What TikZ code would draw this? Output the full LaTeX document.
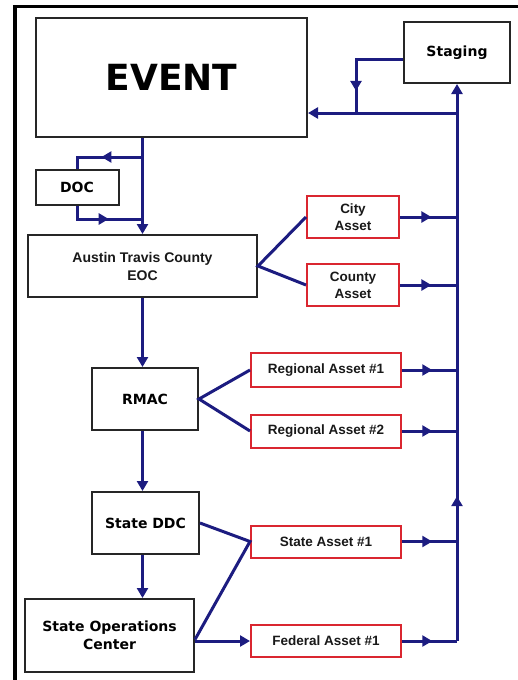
\documentclass[tikz,border=0pt]{standalone}
\usepackage{fontspec}
\setmainfont{Liberation Sans}
\newfontfamily\heavyfont{DejaVu Sans}
\usetikzlibrary{arrows.meta,decorations.markings}
\definecolor{flownavy}{RGB}{28,28,128}
\definecolor{assetred}{RGB}{218,38,48}
\tikzset{
    box/.style={draw=black!85,line width=2pt,fill=white,inner sep=0pt,align=center,
        font=\heavyfont\bfseries\fontsize{14}{18}\selectfont},
    plainbox/.style={box,font=\bfseries\fontsize{14}{18}\selectfont,text=black!90},
    assetbox/.style={plainbox,draw=assetred,font=\bfseries\fontsize{13.5}{17}\selectfont},
    link/.style={draw=flownavy,line width=3pt},
    tip/.style={-{Triangle[length=10pt,width=11pt]}},
    midarrow/.style={postaction={decorate},decoration={markings,
        mark=at position #1 with {\arrow{Triangle[length=10pt,width=11pt]}}}}
}
\begin{document}
\begin{tikzpicture}[x=1pt,y=-1pt,line join=miter]
    \useasboundingbox (0,0) rectangle (518,680);
    %% frame
    \draw[line width=4.5pt] (15,680) -- (15,6.5);
    \draw[line width=3.5pt] (12.75,6.5) -- (518,6.5);
    %% boxes
    \node[box,minimum width=271,minimum height=119,
        font=\heavyfont\bfseries\fontsize{36}{40}\selectfont] (event) at (171.5,77.5) {EVENT};
    \node[box,minimum width=106,minimum height=61] (staging) at (457,52.5) {Staging};
    \node[box,minimum width=83,minimum height=35] (doc) at (77,187.5) {DOC};
    \node[plainbox,minimum width=229,minimum height=62] (eoc) at (142.5,266)
        {Austin Travis County\\EOC};
    \node[box,minimum width=106,minimum height=62] (rmac) at (145,399) {RMAC};
    \node[box,minimum width=107,minimum height=62] (ddc) at (145.5,523) {State DDC};
    \node[box,minimum width=169,minimum height=73] (soc) at (109.5,635.5)
        {State Operations\\Center};
    %% assets
    \node[assetbox,minimum width=92,minimum height=42] (city) at (353,217) {City\\Asset};
    \node[assetbox,minimum width=92,minimum height=42] (county) at (353,285) {County\\Asset};
    \node[assetbox,minimum width=150,minimum height=34] (reg1) at (326,370) {Regional Asset \#1};
    \node[assetbox,minimum width=150,minimum height=33] (reg2) at (326,431) {Regional Asset \#2};
    \node[assetbox,minimum width=150,minimum height=32] (state) at (326,541.5) {State Asset \#1};
    \node[assetbox,minimum width=150,minimum height=32] (fed) at (326,641) {Federal Asset \#1};
    %% bus on the right
    \coordinate (busend) at (staging.south |- fed.east);
    \coordinate (busevent) at (457,113);
    \coordinate (stagingdrop) at (356,113);
    \coordinate (docout) at (eoc.north |- 0,157);
    \coordinate (docin) at (eoc.north |- 0,219);
    \draw[link,tip,midarrow=0.26] (busend) -- (staging.south);
    \draw[link,tip] (busevent) -- (event.east |- busevent);
    \draw[link,midarrow=0.78] ([yshift=-7pt]staging.west) -| (stagingdrop);
    \foreach \a in {city,county,reg1,reg2,state,fed}
        \draw[link,midarrow=0.55] (\a.east) -- (\a.east -| busend);
    %% down the chain
    \draw[link,tip] (event.south -| eoc.north) -- (eoc.north);
    \draw[link,midarrow=0.53] (docout) -| (doc.north);
    \draw[link,midarrow=0.57] (doc.south) |- (docin);
    \draw[link,tip] (eoc.south) -- (eoc.south |- rmac.north);
    \draw[link,tip] (eoc.south |- rmac.south) -- (eoc.south |- ddc.north);
    \draw[link,tip] (eoc.south |- ddc.south) -- (eoc.south |- soc.north);
    %% to the assets
    \draw[link] (city.west) -- (eoc.east) -- (county.west);
    \draw[link] (reg1.west) -- (rmac.east) -- (reg2.west);
    \draw[link] (ddc.east) -- (state.west) -- ([yshift=-4pt]soc.east);
    \draw[link,tip] (soc.east |- fed.west) -- (fed.west);
\end{tikzpicture}
\end{document}
